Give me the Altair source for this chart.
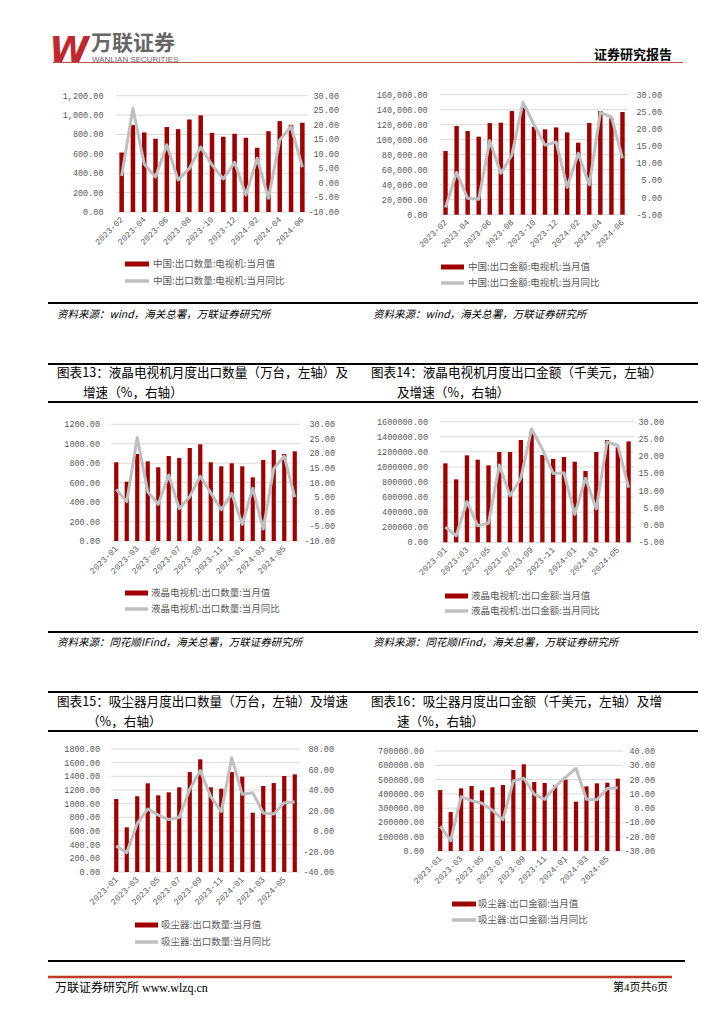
import altair as alt
import pandas as pd

# ---------------- data ----------------
MONTHS_A = ["2023-02", "2023-03", "2023-04", "2023-05", "2023-06", "2023-07", "2023-08",
            "2023-09", "2023-10", "2023-11", "2023-12", "2024-01", "2024-02", "2024-03",
            "2024-04", "2024-05", "2024-06"]
LABELS_A = ["2023-02", "2023-04", "2023-06", "2023-08", "2023-10", "2023-12",
            "2024-02", "2024-04", "2024-06"]
MONTHS_B = ["2023-01", "2023-02", "2023-03", "2023-04", "2023-05", "2023-06", "2023-07",
            "2023-08", "2023-09", "2023-10", "2023-11", "2023-12", "2024-01", "2024-02",
            "2024-03", "2024-04", "2024-05", "2024-06"]
LABELS_B = ["2023-01", "2023-03", "2023-05", "2023-07", "2023-09", "2023-11",
            "2024-01", "2024-03", "2024-05"]

TV_QTY = [614, 897, 821, 755, 876, 855, 955, 997, 817, 776, 807, 766, 662, 834, 938, 900, 921]
TV_QTY_YOY = [2.4, 25.7, 6.5, 2.0, 13.1, 1.0, 5.0, 12.3, 6.2, 1.4, 7.1, -4.2, 8.5, -5.3, 14.8, 19.4, 5.4]

TV_AMT = [85000, 118200, 111500, 104000, 122200, 122700, 138200, 142700, 117300, 113800,
          116400, 109800, 96000, 122200, 138200, 128400, 136900]
TV_AMT_YOY = [-2.9, 7.3, -0.2, -0.5, 16.6, 7.1, 12.4, 27.8, 21.3, 15.3, 16.2, 3.0, 12.9, 3.7,
              24.8, 23.5, 11.4]

LCD_QTY = [809, 610, 895, 819, 758, 874, 854, 957, 994, 809, 768, 799, 768, 655, 833, 936, 895, 922]
LCD_QTY_YOY = [7.7, 3.5, 25.5, 6.9, 2.6, 12.6, 1.1, 5.2, 12.2, 6.5, 0.7, 6.3, -4.3, 8.1, -5.9,
               14.8, 19.1, 5.0]

LCD_AMT = [1047500, 835000, 1153600, 1096000, 1021000, 1197800, 1197800, 1357000, 1467000,
           1158000, 1105000, 1131500, 1069600, 946000, 1197800, 1357000, 1260000, 1339000]
LCD_AMT_YOY = [-0.6, -3.1, 6.8, -0.2, 0.5, 17.4, 8.5, 13.6, 27.9, 22.0, 15.0, 15.2, 3.1, 13.6,
               4.7, 24.1, 23.1, 10.9]

VAC_QTY = [1068, 654, 1107, 1298, 1122, 1166, 1239, 1463, 1649, 1239, 1220, 1463, 1395, 868,
           1259, 1302, 1405, 1429]
VAC_QTY_YOY = [-14.6, -21.1, 7.5, 21.5, 15.6, 11.1, 13.3, 40.7, 58.9, 33.5, 18.9, 71.5, 35.8,
               37.4, 17.6, 16.6, 27.6, 28.3]

VAC_AMT = [427000, 273000, 438700, 455000, 424700, 445700, 462000, 567000, 606700, 483000,
           476000, 460000, 499300, 345300, 452600, 473700, 478300, 506300]
VAC_AMT_YOY = [-12.7, -22.8, 8.0, 5.2, 3.4, -1.5, -8.1, 19.0, 20.9, 9.7, 6.2, 15.0, 21.6, 27.9,
               6.2, 5.9, 13.8, 14.3]

TICKS_L1 = [0, 200, 400, 600, 800, 1000, 1200]
TICKS_R1 = [-10, -5, 0, 5, 10, 15, 20, 25, 30]
TICKS_L2 = [0, 20000, 40000, 60000, 80000, 100000, 120000, 140000, 160000]
TICKS_R2 = [-5, 0, 5, 10, 15, 20, 25, 30]
TICKS_L4 = [0, 200000, 400000, 600000, 800000, 1000000, 1200000, 1400000, 1600000]
TICKS_L5 = [0, 200, 400, 600, 800, 1000, 1200, 1400, 1600, 1800]
TICKS_R5 = [-40, -20, 0, 20, 40, 60, 80]
TICKS_L6 = [0, 100000, 200000, 300000, 400000, 500000, 600000, 700000]
TICKS_R6 = [-30, -20, -10, 0, 10, 20, 30, 40]

# ---------------- styling ----------------
RED = "#a00000"
GRAY = "#bfbfbf"
GRID = "#d9d9d9"
TXT = "#595959"
CJK = "Noto Sans CJK SC"
MONO = "Liberation Mono"
TICK_FS = 8.5
OX, OY = 8, 8
ONE = pd.DataFrame({"k": [0]})


def X(v):
    return v - OX


def Y(v):
    return v - OY


def hline(x0, x1, y, color="black", w=2.0):
    return alt.Chart(ONE).mark_rule(color=color, strokeWidth=w).encode(
        x=alt.value(X(x0)), x2=alt.value(X(x1)), y=alt.value(Y(y)))


def label(text, x, y, size=10, align="left", font=CJK, color="black", weight="normal",
          style="normal", baseline="middle"):
    return alt.Chart(ONE).mark_text(
        text=text, align=align, baseline=baseline, font=font, fontSize=size, color=color,
        fontWeight=weight, fontStyle=style).encode(x=alt.value(X(x)), y=alt.value(Y(y)))


def panel(months, xlabels, bars, yoy, box, lticks, rticks, lfmt, lx, rx, leg, names):
    x0, x1, top, bottom = box
    xs = alt.Scale(type="band", domain=months, range=[X(x0), X(x1)],
                   paddingInner=0.6, paddingOuter=0.3)
    ls = alt.Scale(domain=[lticks[0], lticks[-1]], range=[Y(bottom), Y(top)],
                   zero=False, nice=False)
    rs = alt.Scale(domain=[rticks[0], rticks[-1]], range=[Y(bottom), Y(top)],
                   zero=False, nice=False)
    df = pd.DataFrame({"m": months, "v": bars, "r": yoy})
    ldf = pd.DataFrame({"t": lticks, "s": [lfmt.format(v) for v in lticks]})
    rdf = pd.DataFrame({"t": rticks, "s": ["{:.2f}".format(v) for v in rticks]})
    xdf = pd.DataFrame({"m": xlabels})
    out = []
    out.append(alt.Chart(ldf).mark_rule(color=GRID, strokeWidth=1).encode(
        y=alt.Y("t:Q", scale=ls, axis=None), x=alt.value(X(x0)), x2=alt.value(X(x1))))
    out.append(alt.Chart(ldf).mark_text(align="right", baseline="middle", font=MONO,
                                        fontSize=TICK_FS, color=TXT).encode(
        y=alt.Y("t:Q", scale=ls, axis=None), x=alt.value(X(lx)), text="s:N"))
    out.append(alt.Chart(rdf).mark_text(align="right", baseline="middle", font=MONO,
                                        fontSize=TICK_FS, color=TXT).encode(
        y=alt.Y("t:Q", scale=rs, axis=None), x=alt.value(X(rx)), text="s:N"))
    out.append(alt.Chart(df).mark_bar(color=RED).encode(
        x=alt.X("m:N", scale=xs, axis=None),
        y=alt.Y("v:Q", scale=ls, axis=None)))
    out.append(alt.Chart(df).mark_line(color=GRAY, strokeWidth=3, strokeJoin="round").encode(
        x=alt.X("m:N", scale=xs, axis=None, bandPosition=0.5),
        y=alt.Y("r:Q", scale=rs, axis=None)))
    out.append(alt.Chart(xdf).mark_text(angle=315, align="right", baseline="middle",
                                        font=MONO, fontSize=TICK_FS, color=TXT).encode(
        x=alt.X("m:N", scale=xs, axis=None, bandPosition=0.5),
        y=alt.value(Y(bottom + 6)), text="m:N"))
    sx0, sx1, by, ly, tx = leg
    out.append(alt.Chart(ONE).mark_rect(color=RED).encode(
        x=alt.value(X(sx0)), x2=alt.value(X(sx1)), y=alt.value(Y(by - 2.5)),
        y2=alt.value(Y(by + 2.5))))
    out.append(hline(sx0, sx1, ly, color=GRAY, w=3.5))
    out.append(label(names[0], tx, by, size=9.5, color=TXT))
    out.append(label(names[1], tx, ly, size=9.5, color=TXT))
    return out


layers = []

# header
layers.append(hline(53, 683, 62.5, color="#c0504d", w=1))
layers.append(label("W", 69, 62, size=36, align="center", font="DejaVu Sans",
                    color="#c0282d", weight="bold", style="italic", baseline="alphabetic"))
layers.append(label("万联证券", 91, 44, size=21, color="#666666", weight="bold"))
layers.append(label("WANLIAN SECURITIES", 92, 59.5, size=8, font="Liberation Sans",
                    color="#666666"))
layers.append(label("证券研究报告", 672, 55, size=13, align="right", weight="bold"))

# chart 1 & 2
layers += panel(MONTHS_A, LABELS_A, TV_QTY, TV_QTY_YOY, (116, 308, 95.7, 212),
                TICKS_L1, TICKS_R1, "{:,.2f}", 103.5, 339,
                (125, 149, 264, 281, 153),
                ["中国:出口数量:电视机:当月值", "中国:出口数量:电视机:当月同比"])
layers += panel(MONTHS_A, LABELS_A, TV_AMT, TV_AMT_YOY, (440, 628, 94.7, 214.7),
                TICKS_L2, TICKS_R2, "{:,.2f}", 427.7, 662,
                (441, 464, 267, 283, 468),
                ["中国:出口金额:电视机:当月值", "中国:出口金额:电视机:当月同比"])

layers.append(hline(48, 698, 303))
layers.append(label("资料来源：wind，海关总署，万联证券研究所", 57, 315, size=10.5,
                    style="italic"))
layers.append(label("资料来源：wind，海关总署，万联证券研究所", 373, 315, size=10.5,
                    style="italic"))

# titles 13 & 14
layers.append(hline(48, 698, 364))
layers.append(label("图表13：液晶电视机月度出口数量（万台，左轴）及", 57, 373, size=12.6))
layers.append(label("增速（%，右轴）", 83, 393, size=12.6))
layers.append(label("图表14：液晶电视机月度出口金额（千美元，左轴）", 371, 373, size=12.6))
layers.append(label("及增速（%，右轴）", 397, 393, size=12.6))
layers.append(hline(48, 698, 402))

layers += panel(MONTHS_B, LABELS_B, LCD_QTY, LCD_QTY_YOY, (111, 300, 424.3, 541),
                TICKS_L1, TICKS_R1, "{:.2f}", 100, 335,
                (125, 148, 593, 609, 151),
                ["液晶电视机:出口数量:当月值", "液晶电视机:出口数量:当月同比"])
layers += panel(MONTHS_B, LABELS_B, LCD_AMT, LCD_AMT_YOY, (440, 634, 421.7, 542.3),
                TICKS_L4, TICKS_R2, "{:.2f}", 428, 664,
                (445, 468, 596, 611, 471),
                ["液晶电视机:出口金额:当月值", "液晶电视机:出口金额:当月同比"])

layers.append(hline(48, 698, 632))
layers.append(label("资料来源：同花顺IFind，海关总署，万联证券研究所", 57, 643, size=10.5,
                    style="italic"))
layers.append(label("资料来源：同花顺IFind，海关总署，万联证券研究所", 373, 643, size=10.5,
                    style="italic"))

# titles 15 & 16
layers.append(hline(48, 698, 692))
layers.append(label("图表15：吸尘器月度出口数量（万台，左轴）及增速", 57, 702, size=12.6))
layers.append(label("（%，右轴）", 87, 722, size=12.6))
layers.append(label("图表16：吸尘器月度出口金额（千美元，左轴）及增", 371, 702, size=12.6))
layers.append(label("速（%，右轴）", 397, 722, size=12.6))
layers.append(hline(48, 698, 731))

layers += panel(MONTHS_B, LABELS_B, VAC_QTY, VAC_QTY_YOY, (111, 300, 749, 872),
                TICKS_L5, TICKS_R5, "{:.2f}", 100, 334,
                (135, 158, 925, 942, 161),
                ["吸尘器:出口数量:当月值", "吸尘器:出口数量:当月同比"])
layers += panel(MONTHS_B, LABELS_B, VAC_AMT, VAC_AMT_YOY, (435, 623, 751, 851),
                TICKS_L6, TICKS_R6, "{:.2f}", 424, 655,
                (452, 476, 904, 920, 478),
                ["吸尘器:出口金额:当月值", "吸尘器:出口金额:当月同比"])

# footer
layers.append(hline(48, 685, 961))
layers.append(hline(48, 672, 977, color="#c0392b", w=2.5))
layers.append(label("万联证券研究所 www.wlzq.cn", 55, 988, size=12,
                    font="'Liberation Serif', 'Noto Sans CJK SC'"))
layers.append(label("第4页共6页", 668, 988, size=11, align="right",
                    font="'Liberation Serif', 'Noto Sans CJK SC'"))

chart = alt.layer(*layers).resolve_scale(x="independent", y="independent").properties(
    width=708, height=1008, padding=0,
    autosize=alt.AutoSizeParams(type="none")).configure_view(stroke=None)

chart.save("out.html", embed_options={"renderer": "svg", "actions": False})
